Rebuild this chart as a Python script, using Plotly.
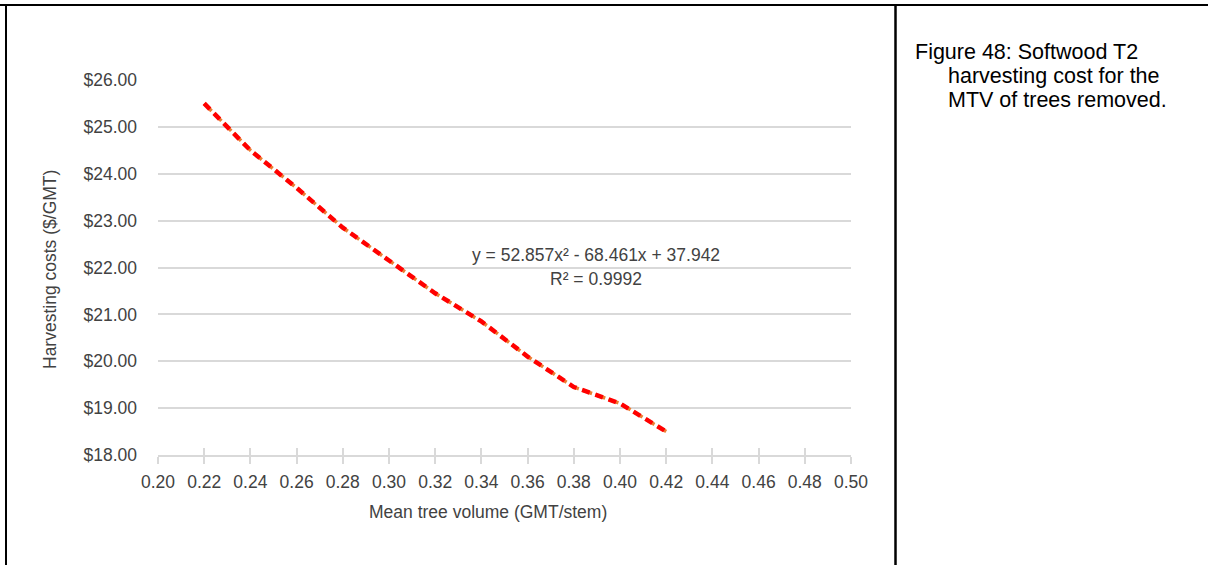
import plotly.graph_objects as go

# ---- data ----
mtv = [0.22, 0.24, 0.26, 0.28, 0.30, 0.32, 0.34, 0.36, 0.38, 0.40, 0.42]
cost = [25.50, 24.50, 23.70, 22.85, 22.15, 21.45, 20.85, 20.10, 19.45, 19.10, 18.50]
x_ticks = [0.20, 0.22, 0.24, 0.26, 0.28, 0.30, 0.32, 0.34, 0.36, 0.38, 0.40,
           0.42, 0.44, 0.46, 0.48, 0.50]
y_ticks = [18, 19, 20, 21, 22, 23, 24, 25, 26]
equation = "y = 52.857x² - 68.461x + 37.942"
r_squared = "R² = 0.9992"
caption_lines = ["Figure 48: Softwood T2", "harvesting cost for the", "MTV of trees removed."]

FONT = "Liberation Sans, Arial, sans-serif"
TXT = "#424242"
GRID = "#d9d9d9"
FS = 17.5

fig = go.Figure()
# data series (orange, dotted) underneath
fig.add_trace(go.Scatter(x=mtv, y=cost, mode="lines",
                         line=dict(color="#ED7D31", width=3.5, dash="dot"),
                         showlegend=False, hoverinfo="skip"))
# trendline (red dashed) on top
fig.add_trace(go.Scatter(x=mtv, y=cost, mode="lines",
                         line=dict(color="#FF0000", width=4.5, dash="8px,6px"),
                         showlegend=False))
# invisible trace to activate overlay axis (for crossing ticks)
fig.add_trace(go.Scatter(x=[x_ticks[0]], y=[y_ticks[0]], xaxis="x2", mode="markers",
                         marker=dict(opacity=0), showlegend=False, hoverinfo="skip"))

L, R, T, B = 158, 357, 80, 110
W, H = 1208, 565
pw, ph = W - L - R, H - T - B

def px(xp):
    return (xp - L) / pw

def py(yp):
    return (H - B - yp) / ph

ann_font = dict(family=FONT, size=FS, color=TXT)
cap_font = dict(family=FONT, size=21.5, color="black")

fig.update_layout(
    width=W, height=H,
    margin=dict(l=L, r=R, t=T, b=B, autoexpand=False),
    paper_bgcolor="white", plot_bgcolor="white",
    font=dict(family=FONT, size=FS, color=TXT),
    xaxis=dict(range=[0.20, 0.50], tickvals=x_ticks, tickformat=".2f",
               showgrid=False, zeroline=False, showline=True, linecolor=GRID, linewidth=2,
               ticks="outside", ticklen=7, tickwidth=2, tickcolor=GRID,
               tickfont=dict(family=FONT, size=FS, color=TXT),
               ticklabelstandoff=3),
    xaxis2=dict(range=[0.20, 0.50], tickvals=x_ticks, overlaying="x", side="bottom",
                showticklabels=False, showgrid=False, zeroline=False, showline=False,
                ticks="inside", ticklen=7, tickwidth=2, tickcolor=GRID),
    yaxis=dict(range=[18, 26], tickvals=y_ticks, tickformat="$.2f",
               showgrid=True, gridcolor=GRID, gridwidth=2, zeroline=False, showline=False,
               ticks="", tickfont=dict(family=FONT, size=FS, color=TXT),
               ticklabelstandoff=20),
    annotations=[
        dict(text=equation, x=0.3896, y=22.27, xref="x", yref="y", showarrow=False,
             xanchor="center", yanchor="middle", font=ann_font),
        dict(text=r_squared, x=0.3896, y=21.76, xref="x", yref="y", showarrow=False,
             xanchor="center", yanchor="middle", font=ann_font),
        dict(text="Mean tree volume (GMT/stem)", x=px(488), y=py(512), xref="paper", yref="paper",
             showarrow=False, xanchor="center", yanchor="middle", font=ann_font),
        dict(text="Harvesting costs ($/GMT)", x=px(50), y=py(270), xref="paper", yref="paper",
             showarrow=False, xanchor="center", yanchor="middle", textangle=-90, font=ann_font),
        dict(text=caption_lines[0], x=px(913), y=py(52), xref="paper", yref="paper",
             showarrow=False, xanchor="left", yanchor="middle", font=cap_font),
        dict(text=caption_lines[1], x=px(946), y=py(76), xref="paper", yref="paper",
             showarrow=False, xanchor="left", yanchor="middle", font=cap_font),
        dict(text=caption_lines[2], x=px(946), y=py(100), xref="paper", yref="paper",
             showarrow=False, xanchor="left", yanchor="middle", font=cap_font),
    ],
    shapes=[
        dict(type="line", xref="paper", yref="paper", x0=px(0), x1=px(W), y0=py(5), y1=py(5),
             line=dict(color="black", width=2)),
        dict(type="line", xref="paper", yref="paper", x0=px(6), x1=px(6), y0=py(4), y1=py(H),
             line=dict(color="black", width=2)),
        dict(type="line", xref="paper", yref="paper", x0=px(895.5), x1=px(895.5), y0=py(4), y1=py(H),
             line=dict(color="black", width=2.5)),
    ],
)

fig.write_html("out.html", config={"displayModeBar": False},
               post_script="document.body.style.margin='0';document.body.style.overflow='hidden';")
